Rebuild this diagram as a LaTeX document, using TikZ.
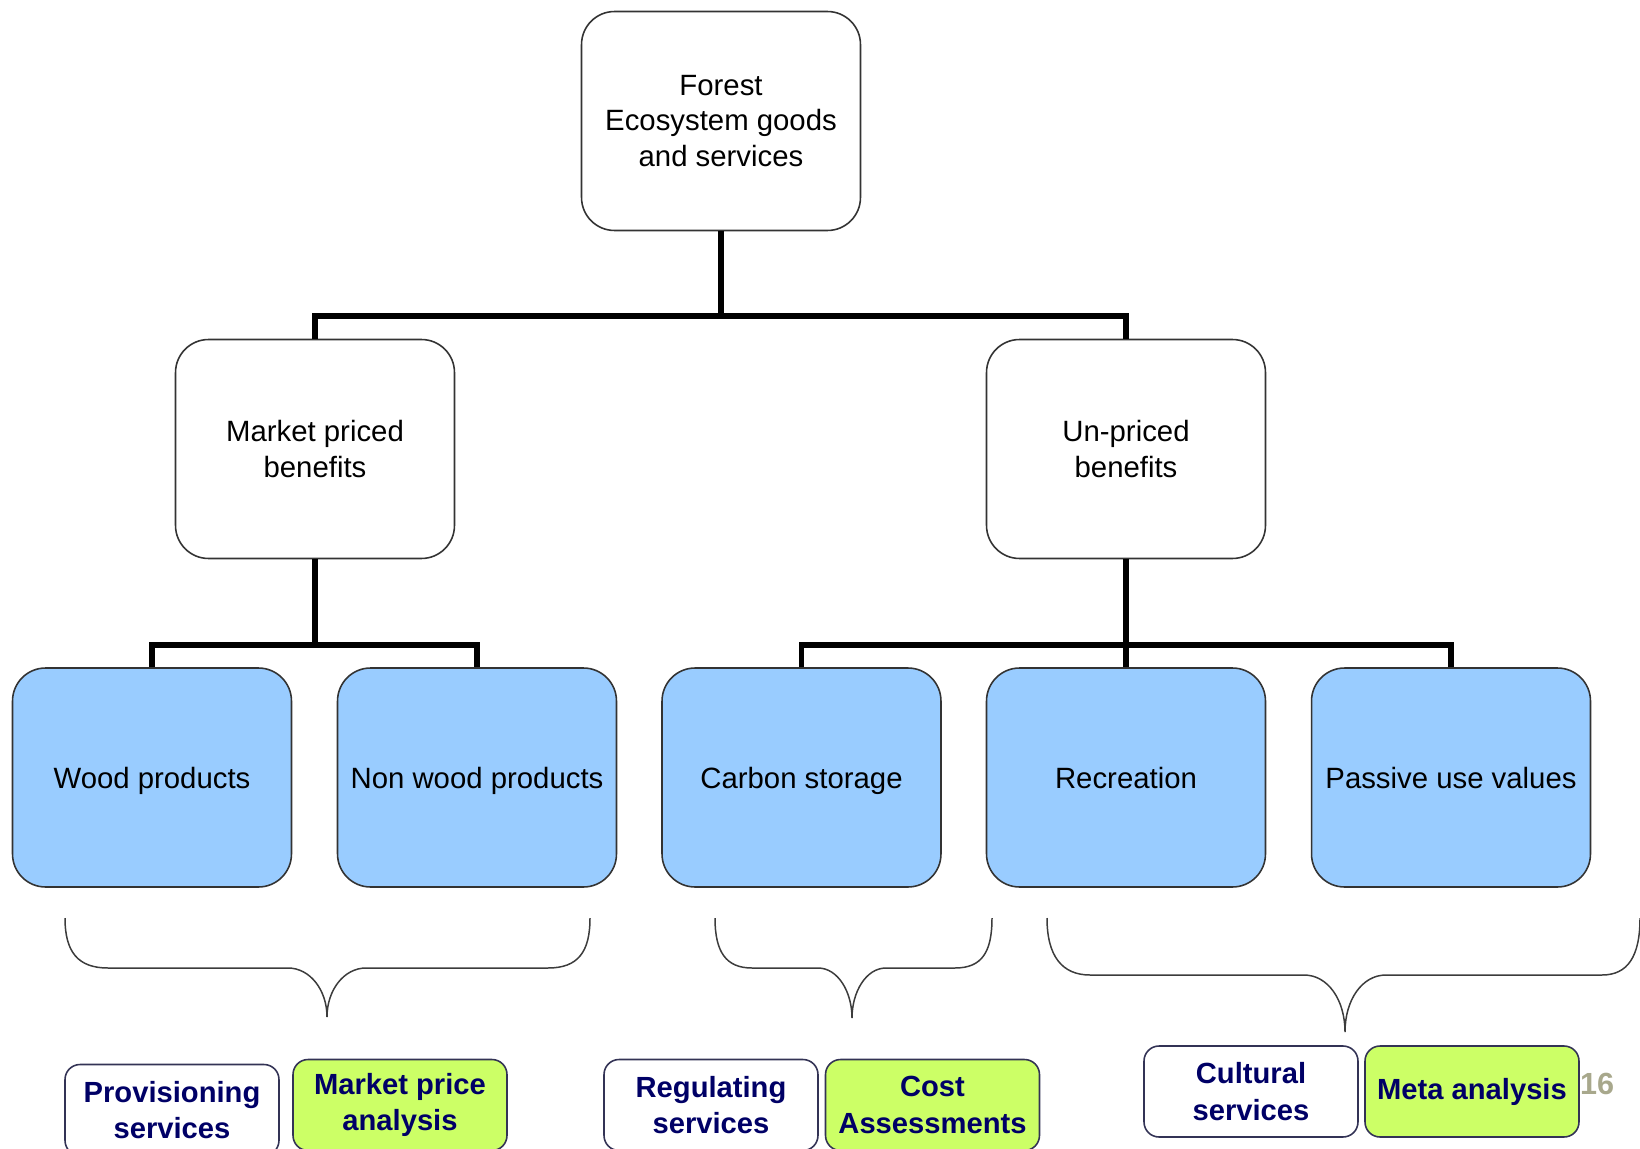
\documentclass[tikz,border=0pt]{standalone}
\usepackage{fontspec}
\setmainfont{Liberation Sans}
\usepackage{tikz}
\usetikzlibrary{positioning,calc}
\definecolor{colorblue}   {RGB}{153,204,255}
\definecolor{colorgreen}  {RGB}{204,255,102}
\definecolor{colornavy}   {RGB}{  0,  0,102}
\definecolor{colorframe}  {RGB}{ 51, 51, 85}
\definecolor{colorbrace}  {RGB}{ 60, 60, 60}
\definecolor{colorpage}   {RGB}{168,168,140}

\begin{document}
\begin{tikzpicture}[
    x=0.02cm, y=-0.02cm,
    box/.style={draw=black!80,line width=0.9pt,rounded corners=0.66cm,
        minimum width=5.58cm,minimum height=4.38cm,inner sep=0pt,align=center,
        font={\fontsize{16.7}{20.2}\selectfont}},
    plain/.style={box,fill=white},
    good/.style={box,fill=colorblue,text height=12pt,text depth=0pt},
    service/.style={draw=colorframe,line width=0.9pt,rounded corners=0.3cm,
        minimum width=4.28cm,minimum height=1.82cm,inner sep=0pt,align=center,
        text=colornavy,font={\fontsize{16.6}{20.8}\selectfont\bfseries}},
    method/.style={service,fill=colorgreen},
    link/.style={line width=3.4pt},
    brace/.style={draw=colorbrace,line width=0.85pt}
]
    \useasboundingbox (0,0) rectangle (1640,1149);
    \clip (0,0) rectangle (1640,1149);

    % Top
    \node[plain] (forest) at (721,121) {Forest\\Ecosystem goods\\and services};

    % Second level
    \node[plain] (market) at (315,449) {Market priced\\benefits};
    \node[plain] (unpriced) at (1126,449) {Un-priced\\benefits};

    % Third level
    \node[good] (wood) at (152,777.5) {Wood products};
    \node[good] (nonwood) at (477,777.5) {Non wood products};
    \node[good] (carbon) at (801.5,777.5) {Carbon storage};
    \node[good] (recreation) at (1126,777.5) {Recreation};
    \node[good] (passive) at (1451,777.5) {Passive use values};

    % Tree lines
    \coordinate (bartop) at (721,316);
    \coordinate (barleft) at (315,645);
    \coordinate (barright) at (1126,645);
    \draw[link] (forest.south) -- (bartop);
    \draw[link] (bartop) -| (market.north);
    \draw[link] (bartop) -| (unpriced.north);
    \draw[link] (market.south) -- (barleft);
    \draw[link] (barleft) -| (wood.north);
    \draw[link] (barleft) -| (nonwood.north);
    \draw[link] (unpriced.south) -- (recreation.north);
    \draw[link] (barright) -| (carbon.north);
    \draw[link] (barright) -| (passive.north);

    % Braces
    \draw[brace] (65,918) .. controls (65,952) and (78,968) .. (108,968) -- (288,968)
        .. controls (310,968) and (327,990) .. (327,1017)
        .. controls (327,990) and (344,968) .. (366,968) -- (548,968)
        .. controls (578,968) and (590,952) .. (590,918);
    \draw[brace] (715,918) .. controls (715,952) and (726,968) .. (752,968) -- (818,968)
        .. controls (838,968) and (852,992) .. (852,1018)
        .. controls (852,992) and (866,968) .. (886,968) -- (955,968)
        .. controls (982,968) and (992,952) .. (992,918);
    \draw[brace] (1047,918) .. controls (1047,956) and (1062,975) .. (1090,975) -- (1304,975)
        .. controls (1328,975) and (1345,1000) .. (1345,1032)
        .. controls (1345,1000) and (1362,975) .. (1386,975) -- (1602,975)
        .. controls (1628,975) and (1640,956) .. (1640,918);

    % Services and methods
    \node[service] (provisioning) at (172,1110) {Provisioning\\services};
    \node[method] (marketprice) at (400,1105) {Market price\\analysis};
    \node[service] (regulating) at (711,1105) {Regulating\\services};
    \node[method] (cost) at (932.5,1105) {Cost\\Assessments};
    \node[service] (cultural) at (1251,1091.5) {Cultural\\services};
    \node[method] (meta) at (1472,1091.5) {Meta analysis};

    % Page number
    \node[text=colorpage,font={\fontsize{17.4}{20}\selectfont\bfseries},inner sep=0pt] (page) at (1597,1084) {16};

\end{tikzpicture}
\end{document}
